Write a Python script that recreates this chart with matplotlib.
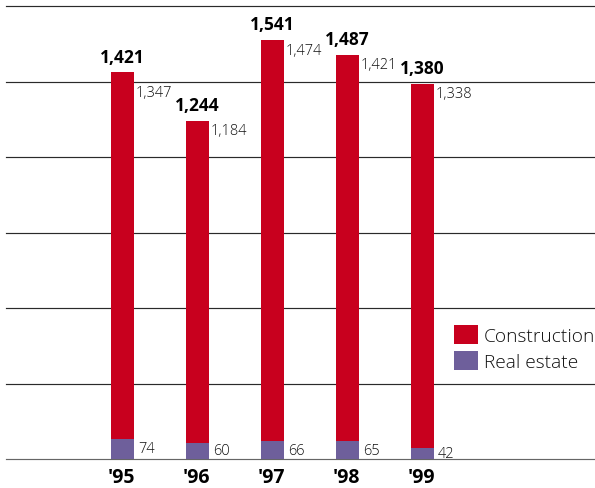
"""Construction and real estate orders, '95-'99, stacked bars."""

import matplotlib
matplotlib.use("Agg")
import matplotlib.pyplot as plt
import numpy as np

years = ["'95", "'96", "'97", "'98", "'99"]
construction = [1347, 1184, 1474, 1421, 1338]
real_estate = [74, 60, 66, 65, 42]
totals = [1421, 1244, 1541, 1487, 1380]

RED = "#c8001e"
PURPLE = "#6e5f9b"
FONT = ["Open Sans", "DejaVu Sans"]

plt.rcParams["font.family"] = FONT

fig = plt.figure(figsize=(5.95, 4.89), dpi=100)
ax = fig.add_axes([6 / 595, 1 - 460 / 489, 589 / 595, 453 / 489])

x = np.arange(len(years))
width = 0.307
ax.bar(x, real_estate, width, color=PURPLE, label="Real estate", zorder=3)
ax.bar(x, construction, width, bottom=real_estate, color=RED,
       label="Construction", zorder=3)

ax.set_xlim(-1.553, 6.3)
ax.set_ylim(0, 1665)
ax.set_yticks(np.linspace(0, 1665, 7))
ax.grid(axis="y", color="#2a2a2a", linewidth=0.85, zorder=0)
for line in ax.get_ygridlines():
    line.set_clip_on(False)
ax.get_ygridlines()[0].set_color("#666666")
ax.tick_params(left=False, bottom=False, labelleft=False, labelbottom=False)
for side in ax.spines.values():
    side.set_visible(False)

# the '95 label sits lower so it clears the gridline
nudge = {0: -7}
for i in x:
    top = totals[i]
    ax.annotate(f"{totals[i]:,}", (i, top), xytext=(0, 7.5),
                textcoords="offset points", ha="center", va="baseline",
                fontsize=12.5, fontweight="bold")
    ax.annotate(f"{construction[i]:,}", (i + width / 2, top),
                xytext=(1.5, -2 + nudge.get(i, 0)), textcoords="offset points",
                ha="left", va="top", fontsize=10.5, fontweight="light",
                color="#111111")
    ax.annotate(f"{real_estate[i]}", (i + width / 2, real_estate[i] / 2),
                xytext=(3, 0), textcoords="offset points", ha="left",
                va="center", fontsize=10.5, fontweight="light", color="#111111")
    ax.annotate(years[i], (i, 0), xytext=(-1, -13), textcoords="offset points",
                ha="center", va="center", fontsize=14, fontweight="bold",
                annotation_clip=False)

handles, labels = ax.get_legend_handles_labels()
leg = ax.legend(handles[::-1], labels[::-1], loc="upper left",
                bbox_to_anchor=(454 / 595, 1 - 326 / 489),
                bbox_transform=fig.transFigure, frameon=False,
                prop={"weight": "light", "size": 13.8}, handlelength=1.25,
                handleheight=1.15, handletextpad=0.3, labelspacing=0.3,
                borderpad=0, borderaxespad=0)
for t in leg.get_texts():
    t.set_color("#111111")

fig.savefig("out.png", dpi=100)
